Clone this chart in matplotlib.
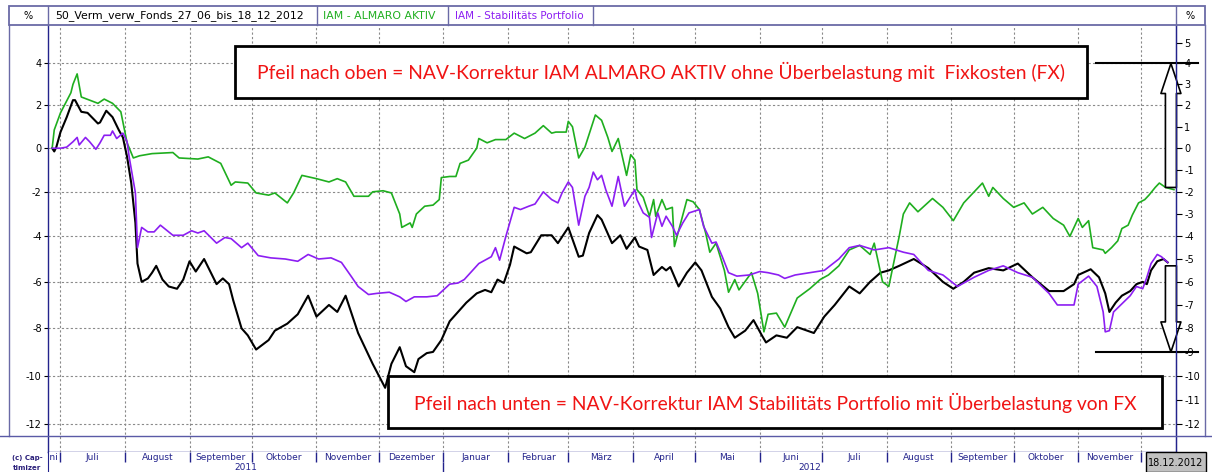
import numpy as np
import pandas as pd
import matplotlib
matplotlib.use("Agg")
import matplotlib.pyplot as plt
from matplotlib.patches import Rectangle
import matplotlib.transforms as mtransforms

plt.rcParams["axes.unicode_minus"] = False
plt.rcParams["font.family"] = "DejaVu Sans"

# --- data: performance in % -----------------------------------------------
fonds_dates = [
    "2011-06-27", "2011-06-28", "2011-06-29", "2011-07-01", "2011-07-04", "2011-07-07",
    "2011-07-08", "2011-07-11", "2011-07-14", "2011-07-19", "2011-07-20", "2011-07-23",
    "2011-07-26", "2011-07-29", "2011-07-31", "2011-08-02", "2011-08-04", "2011-08-06",
    "2011-08-07", "2011-08-09", "2011-08-12", "2011-08-14", "2011-08-16", "2011-08-19",
    "2011-08-22", "2011-08-26", "2011-08-29", "2011-09-01", "2011-09-04", "2011-09-08",
    "2011-09-14", "2011-09-17", "2011-09-20", "2011-09-22", "2011-09-26", "2011-09-29",
    "2011-10-03", "2011-10-09", "2011-10-12", "2011-10-18", "2011-10-23", "2011-10-28",
    "2011-11-01", "2011-11-07", "2011-11-11", "2011-11-15", "2011-11-21", "2011-11-28",
    "2011-12-04", "2011-12-07", "2011-12-11", "2011-12-14", "2011-12-18", "2011-12-20",
    "2011-12-24", "2011-12-27", "2011-12-31", "2012-01-04", "2012-01-09", "2012-01-12",
    "2012-01-17", "2012-01-21", "2012-01-24", "2012-01-27", "2012-01-30", "2012-02-02",
    "2012-02-04", "2012-02-10", "2012-02-12", "2012-02-17", "2012-02-22", "2012-02-25",
    "2012-03-01", "2012-03-06", "2012-03-08", "2012-03-11", "2012-03-15", "2012-03-17",
    "2012-03-22", "2012-03-26", "2012-03-29", "2012-04-02", "2012-04-04", "2012-04-08",
    "2012-04-11", "2012-04-15", "2012-04-17", "2012-04-19", "2012-04-23", "2012-04-27",
    "2012-05-01", "2012-05-04", "2012-05-09", "2012-05-13", "2012-05-17", "2012-05-20",
    "2012-05-25", "2012-05-29", "2012-06-02", "2012-06-04", "2012-06-09", "2012-06-14",
    "2012-06-19", "2012-06-27", "2012-07-02", "2012-07-07", "2012-07-14", "2012-07-19",
    "2012-07-24", "2012-07-29", "2012-08-02", "2012-08-07", "2012-08-14", "2012-08-21",
    "2012-08-28", "2012-09-02", "2012-09-07", "2012-09-12", "2012-09-19", "2012-09-26",
    "2012-10-03", "2012-10-10", "2012-10-18", "2012-10-25", "2012-10-30", "2012-11-01",
    "2012-11-07", "2012-11-11", "2012-11-14", "2012-11-16", "2012-11-19", "2012-11-22",
    "2012-11-26", "2012-11-29", "2012-12-02", "2012-12-04", "2012-12-06", "2012-12-09",
    "2012-12-12", "2012-12-14",
]
fonds_vals = [
    0.0, -0.15, 0.05, 0.75, 1.45, 2.25,
    2.25, 1.7, 1.65, 1.15, 1.2, 1.75,
    1.45, 0.85, 0.5, -0.4, -1.6, -3.4,
    -5.2, -6.0, -5.85, -5.6, -5.3, -5.9,
    -6.2, -6.3, -5.9, -5.1, -5.55, -5.0,
    -6.1, -5.85, -6.1, -6.8, -8.0, -8.3,
    -8.9, -8.5, -8.1, -7.8, -7.4, -6.6,
    -7.5, -7.0, -7.3, -6.6, -8.2, -9.5,
    -10.5, -9.5, -8.8, -9.6, -9.85, -9.3,
    -9.05, -9.0, -8.5, -7.7, -7.2, -6.9,
    -6.5, -6.35, -6.45, -5.9, -6.05, -5.25,
    -4.45, -4.75, -4.7, -3.95, -3.95, -4.3,
    -3.6, -4.9, -4.85, -3.85, -3.05, -3.25,
    -4.3, -3.95, -4.55, -4.05, -4.45, -4.6,
    -5.7, -5.35, -5.5, -5.35, -6.2, -5.6,
    -5.15, -5.5, -6.65, -7.15, -7.95, -8.4,
    -8.1, -7.65, -8.3, -8.6, -8.3, -8.4,
    -7.95, -8.2, -7.5, -7.0, -6.2, -6.5,
    -6.0, -5.6, -5.5, -5.3, -5.0, -5.4,
    -6.0, -6.3, -6.0, -5.6, -5.4, -5.5,
    -5.2, -5.8, -6.4, -6.4, -6.1, -5.7,
    -5.45, -5.8, -6.5, -7.3, -6.9, -6.6,
    -6.4, -6.1, -6.0, -6.1, -5.5, -5.1,
    -5.0, -5.15,
]

almaro_dates = [
    "2011-06-27", "2011-06-28", "2011-07-01", "2011-07-06", "2011-07-07", "2011-07-09",
    "2011-07-11", "2011-07-15", "2011-07-19", "2011-07-22", "2011-07-26", "2011-07-29",
    "2011-07-30", "2011-08-02", "2011-08-05", "2011-08-08", "2011-08-14", "2011-08-24",
    "2011-08-27", "2011-09-05", "2011-09-10", "2011-09-16", "2011-09-21", "2011-09-23",
    "2011-09-29", "2011-10-03", "2011-10-09", "2011-10-12", "2011-10-18", "2011-10-21",
    "2011-10-25", "2011-11-01", "2011-11-07", "2011-11-11", "2011-11-15", "2011-11-19",
    "2011-11-26", "2011-11-28", "2011-12-03", "2011-12-07", "2011-12-11", "2011-12-12",
    "2011-12-16", "2011-12-17", "2011-12-19", "2011-12-23", "2011-12-27", "2011-12-30",
    "2011-12-31", "2012-01-04", "2012-01-07", "2012-01-09", "2012-01-13", "2012-01-17",
    "2012-01-18", "2012-01-22", "2012-01-26", "2012-01-31", "2012-02-04", "2012-02-09",
    "2012-02-14", "2012-02-18", "2012-02-22", "2012-02-24", "2012-02-29", "2012-03-01",
    "2012-03-03", "2012-03-06", "2012-03-09", "2012-03-14", "2012-03-17", "2012-03-20",
    "2012-03-22", "2012-03-25", "2012-03-29", "2012-03-31", "2012-04-02", "2012-04-03",
    "2012-04-06", "2012-04-09", "2012-04-11", "2012-04-12", "2012-04-15", "2012-04-17",
    "2012-04-20", "2012-04-21", "2012-04-24", "2012-04-27", "2012-04-30", "2012-05-03",
    "2012-05-06", "2012-05-08", "2012-05-11", "2012-05-15", "2012-05-17", "2012-05-20",
    "2012-05-22", "2012-05-28", "2012-05-31", "2012-06-03", "2012-06-05", "2012-06-09",
    "2012-06-13", "2012-06-19", "2012-06-25", "2012-06-30", "2012-07-04", "2012-07-09",
    "2012-07-14", "2012-07-19", "2012-07-24", "2012-07-26", "2012-07-30", "2012-08-02",
    "2012-08-07", "2012-08-09", "2012-08-12", "2012-08-16", "2012-08-23", "2012-08-28",
    "2012-09-02", "2012-09-07", "2012-09-12", "2012-09-16", "2012-09-19", "2012-09-21",
    "2012-09-26", "2012-10-01", "2012-10-06", "2012-10-10", "2012-10-15", "2012-10-20",
    "2012-10-25", "2012-10-28", "2012-11-01", "2012-11-03", "2012-11-06", "2012-11-08",
    "2012-11-13", "2012-11-14", "2012-11-17", "2012-11-20", "2012-11-22", "2012-11-25",
    "2012-11-27", "2012-11-30", "2012-12-03", "2012-12-05", "2012-12-08", "2012-12-10",
    "2012-12-13", "2012-12-17",
]
almaro_vals = [
    0.0, 0.85, 1.65, 2.6, 3.0, 3.5,
    2.4, 2.25, 2.1, 2.3, 2.1, 1.8,
    1.7, 0.25, -0.45, -0.35, -0.25, -0.2,
    -0.45, -0.5, -0.4, -0.7, -1.7, -1.55,
    -1.6, -2.05, -2.15, -2.05, -2.5, -2.05,
    -1.25, -1.4, -1.55, -1.4, -1.55, -2.2,
    -2.2, -2.0, -1.95, -2.05, -3.0, -3.6,
    -3.4, -3.6, -3.0, -2.65, -2.6, -2.35,
    -1.35, -1.3, -1.3, -0.7, -0.55, 0.0,
    0.45, 0.25, 0.4, 0.4, 0.7, 0.45,
    0.7, 1.05, 0.7, 0.75, 0.75, 1.25,
    1.0, -0.45, 0.05, 1.55, 1.3, 0.5,
    -0.15, 0.45, -1.25, -0.3, -0.55, -1.9,
    -2.25, -3.1, -2.35, -3.1, -2.35, -2.8,
    -2.7, -4.45, -3.4, -2.35, -2.45, -2.8,
    -3.85, -4.7, -4.3, -5.5, -6.45, -5.9,
    -6.35, -5.6, -6.5, -8.15, -7.4, -7.35,
    -7.95, -6.7, -6.3, -5.9, -5.7, -5.3,
    -4.6, -4.4, -4.8, -4.3, -6.0, -6.2,
    -4.0, -3.0, -2.5, -2.9, -2.3, -2.7,
    -3.3, -2.5, -2.0, -1.6, -2.2, -1.8,
    -2.3, -2.7, -2.5, -3.0, -2.7, -3.2,
    -3.5, -4.0, -3.2, -3.6, -3.3, -4.5,
    -4.6, -4.75, -4.5, -4.2, -3.65, -3.5,
    -3.05, -2.5, -2.35, -2.15, -1.8, -1.6,
    -1.8, -1.9,
]

stabil_dates = [
    "2011-06-27", "2011-07-01", "2011-07-04", "2011-07-07", "2011-07-09", "2011-07-10",
    "2011-07-13", "2011-07-15", "2011-07-18", "2011-07-20", "2011-07-22", "2011-07-25",
    "2011-07-26", "2011-07-28", "2011-07-31", "2011-08-02", "2011-08-03", "2011-08-06",
    "2011-08-07", "2011-08-09", "2011-08-12", "2011-08-15", "2011-08-18", "2011-08-22",
    "2011-08-24", "2011-08-29", "2011-09-02", "2011-09-05", "2011-09-08", "2011-09-14",
    "2011-09-18", "2011-09-21", "2011-09-26", "2011-09-29", "2011-10-04", "2011-10-10",
    "2011-10-17", "2011-10-23", "2011-10-28", "2011-11-02", "2011-11-08", "2011-11-13",
    "2011-11-18", "2011-11-21", "2011-11-26", "2011-11-30", "2011-12-06", "2011-12-11",
    "2011-12-14", "2011-12-18", "2011-12-24", "2011-12-29", "2012-01-01", "2012-01-04",
    "2012-01-08", "2012-01-11", "2012-01-14", "2012-01-18", "2012-01-22", "2012-01-24",
    "2012-01-26", "2012-01-28", "2012-01-31", "2012-02-04", "2012-02-07", "2012-02-11",
    "2012-02-14", "2012-02-18", "2012-02-22", "2012-02-25", "2012-02-27", "2012-03-01",
    "2012-03-03", "2012-03-06", "2012-03-09", "2012-03-11", "2012-03-13", "2012-03-15",
    "2012-03-17", "2012-03-19", "2012-03-22", "2012-03-25", "2012-03-28", "2012-03-30",
    "2012-04-02", "2012-04-03", "2012-04-06", "2012-04-09", "2012-04-10", "2012-04-13",
    "2012-04-15", "2012-04-17", "2012-04-20", "2012-04-22", "2012-04-25", "2012-04-28",
    "2012-05-03", "2012-05-05", "2012-05-09", "2012-05-11", "2012-05-14", "2012-05-17",
    "2012-05-21", "2012-05-27", "2012-06-01", "2012-06-05", "2012-06-10", "2012-06-13",
    "2012-06-18", "2012-06-25", "2012-07-02", "2012-07-09", "2012-07-14", "2012-07-19",
    "2012-07-26", "2012-08-02", "2012-08-09", "2012-08-14", "2012-08-21", "2012-08-28",
    "2012-09-04", "2012-09-12", "2012-09-19", "2012-09-26", "2012-10-03", "2012-10-10",
    "2012-10-18", "2012-10-22", "2012-10-30", "2012-11-01", "2012-11-06", "2012-11-10",
    "2012-11-13", "2012-11-14", "2012-11-16", "2012-11-18", "2012-11-22", "2012-11-26",
    "2012-11-29", "2012-12-02", "2012-12-04", "2012-12-06", "2012-12-09", "2012-12-11",
    "2012-12-14",
]
stabil_vals = [
    0.0, 0.0, 0.05, 0.3, 0.5, 0.15,
    0.5, 0.3, -0.05, 0.25, 0.6, 0.6,
    0.8, 0.45, 0.7, 0.3, -0.4, -2.05,
    -4.5, -3.6, -3.8, -3.8, -3.5, -3.8,
    -3.95, -3.95, -3.75, -3.85, -3.75, -4.3,
    -4.05, -4.1, -4.5, -4.3, -4.85, -4.95,
    -5.0, -5.1, -4.8, -5.0, -4.95, -5.15,
    -5.8, -6.2, -6.55, -6.5, -6.45, -6.65,
    -6.85, -6.65, -6.65, -6.6, -6.35, -6.1,
    -6.05, -5.9, -5.6, -5.2, -5.0, -4.9,
    -4.5, -5.05, -4.0, -2.7, -2.8, -2.65,
    -2.55, -2.0, -2.35, -2.5, -2.05, -1.55,
    -1.8, -3.5, -2.2, -1.8, -1.1, -1.45,
    -1.25, -1.9, -2.65, -1.3, -2.65, -2.35,
    -1.9, -2.35, -2.95, -3.15, -4.05, -2.95,
    -3.55, -3.1, -3.55, -3.95, -3.4, -2.95,
    -2.8, -3.55, -4.3, -4.25, -4.9, -5.6,
    -5.75, -5.7, -5.55, -5.6, -5.7, -5.85,
    -5.7, -5.6, -5.5, -5.0, -4.5, -4.4,
    -4.6, -4.5, -4.7, -4.8, -5.5, -5.7,
    -6.2, -5.8, -5.5, -5.3, -5.6, -5.8,
    -6.5, -7.0, -7.0, -6.1, -5.75, -6.2,
    -7.3, -8.15, -8.1, -7.3, -6.95, -6.6,
    -6.2, -6.3, -5.8, -5.2, -4.8, -4.9,
    -5.15,
]

month_names = ["Juni", "Juli", "August", "September", "Oktober", "November", "Dezember",
               "Januar", "Februar", "März", "April", "Mai", "Juni", "Juli", "August",
               "September", "Oktober", "November"]
left_ticks = list(range(-12, 5, 2))
right_ticks = list(range(-12, 6))

W, H = 1212, 472
NAVY = "#23238c"
FRAME = "#6a6aa6"
GRID = "#8a8a8a"
GREEN = "#1fae1f"
PURPLE = "#8c1ef2"
RED = "#f01414"


def fwd(v):
    return np.log1p(np.asarray(v, dtype=float) / 100.0)


def inv(u):
    return np.expm1(u) * 100.0


def fig_box(x0, y0, x1, y1):
    return [x0 / W, 1 - y1 / H, (x1 - x0) / W, (y1 - y0) / H]


fig = plt.figure(figsize=(W / 100, H / 100), dpi=100)
fig.patch.set_facecolor("white")

x_lo, x_hi = pd.Timestamp("2011-06-25"), pd.Timestamp("2012-12-18")
y_lo, y_hi = -13.12, 5.87
month_starts = pd.date_range("2011-07-01", "2012-12-01", freq="MS")

# main chart
ax = fig.add_axes(fig_box(48, 25, 1176, 452))
ax.set_yscale("function", functions=(fwd, inv))
ax.set_ylim(y_lo, y_hi)
ax.set_xlim(x_lo, x_hi)

ax.plot(pd.to_datetime(fonds_dates), fonds_vals, color="black", lw=1.5, zorder=3)
ax.plot(pd.to_datetime(almaro_dates), almaro_vals, color=GREEN, lw=1.2, zorder=3)
ax.plot(pd.to_datetime(stabil_dates), stabil_vals, color=PURPLE, lw=1.2, zorder=3)

ax.set_xticks(month_starts)
ax.tick_params(axis="x", length=0, labelbottom=False)
ax.set_yticks(left_ticks)
ax.set_yticklabels([str(v) for v in left_ticks])
ax.tick_params(axis="y", length=3, width=0.8, labelsize=7, pad=1.5)
ax.grid(True, ls=(0, (2, 2)), color=GRID, lw=0.8)
ax.spines["top"].set_visible(False)
for s in ("left", "right", "bottom"):
    ax.spines[s].set_color(NAVY)
    ax.spines[s].set_linewidth(1.0)

ax2 = ax.twinx()
ax2.set_yscale("function", functions=(fwd, inv))
ax2.set_ylim(y_lo, y_hi)
ax2.set_yticks(right_ticks)
ax2.set_yticklabels([str(v) for v in right_ticks])
ax2.tick_params(axis="y", length=4, width=0.8, labelsize=7, pad=2)
for s in ("top", "left", "bottom"):
    ax2.spines[s].set_visible(False)
ax2.spines["right"].set_color(NAVY)

# correction arrows and marker lines
bt = mtransforms.blended_transform_factory(ax.transAxes, ax.transData)
for lvl in (4, -9):
    ax.plot([0.929, 1.0195], [lvl, lvl], color="black", lw=1.5, transform=bt,
            clip_on=False, zorder=6)
arrow_kw = dict(arrowstyle="simple,head_length=1.5,head_width=1.0,tail_width=0.55",
                fc="white", ec="black", lw=1.2, shrinkA=0, shrinkB=0, mutation_scale=14.4)
ax.annotate("", xy=(0.9955, 4), xytext=(0.9955, -1.8),
            xycoords=("axes fraction", "data"), textcoords=("axes fraction", "data"),
            arrowprops=arrow_kw, zorder=7, annotation_clip=False)
ax.annotate("", xy=(0.9955, -9), xytext=(0.9955, -5.3),
            xycoords=("axes fraction", "data"), textcoords=("axes fraction", "data"),
            arrowprops=arrow_kw, zorder=7, annotation_clip=False)

# month / year band
axm = fig.add_axes(fig_box(48, 452, 1176, 472))
axm.set_xlim(x_lo, x_hi)
axm.set_ylim(0, 1)
axm.set_xticks([])
axm.set_yticks([])
for s in ("top", "right", "bottom"):
    axm.spines[s].set_visible(False)
axm.spines["left"].set_color(NAVY)
axm.vlines(month_starts, 0.5, 1.0, color=NAVY, lw=1.0)
axm.vlines([pd.Timestamp("2012-01-01")], 0.0, 0.5, color=NAVY, lw=1.0)
m_edges = pd.date_range("2011-06-01", "2012-12-01", freq="MS")
for i, (name, a, b) in enumerate(zip(month_names, m_edges[:-1], m_edges[1:])):
    # the first month is only partly visible; its label is cut at the axis
    centre = x_lo + pd.Timedelta(days=1) if i == 0 else a + (b - a) / 2
    axm.text(centre, 0.74, name, ha="center", va="center", fontsize=6.5,
             color=NAVY, clip_on=True)
split = pd.Timestamp("2012-01-01")
axm.text(x_lo + (split - x_lo) / 2, 0.22, "2011", ha="center", va="center",
         fontsize=6.5, color=NAVY)
axm.text(split + (x_hi - split) / 2, 0.22, "2012", ha="center", va="center",
         fontsize=6.5, color=NAVY)

# frame, header and text boxes (pixel coordinates)
ov = fig.add_axes([0, 0, 1, 1], zorder=10)
ov.set_xlim(0, W)
ov.set_ylim(H, 0)
ov.axis("off")
ov.patch.set_alpha(0)

ov.add_patch(Rectangle((9, 6), 1196, 19, fc="white", ec=FRAME, lw=1.3))
for xs in (48, 317, 448, 593, 1176):
    ov.plot([xs, xs], [6, 25], color=FRAME, lw=1.0)
ov.plot([9, 9], [25, 436], color=FRAME, lw=1.0)
ov.plot([1205, 1205], [25, 436], color=FRAME, lw=1.0)
ov.plot([0, W], [436, 436], color="#5a5aa6", lw=1.0)
ov.text(28, 16, "%", ha="center", va="center", fontsize=7)
ov.text(55, 16, "50_Verm_verw_Fonds_27_06_bis_18_12_2012", ha="left", va="center", fontsize=7.8)
ov.text(323, 16, "IAM - ALMARO AKTIV", ha="left", va="center", fontsize=7.8, color=GREEN)
ov.text(455, 16, "IAM - Stabilitäts Portfolio", ha="left", va="center", fontsize=7.5, color=PURPLE)
ov.text(1190, 16, "%", ha="center", va="center", fontsize=7)

ov.text(27, 458, "(c) Cap-", ha="center", va="center", fontsize=5, fontweight="bold", color="#2a1f7a")
ov.text(27, 468.5, "timizer", ha="center", va="center", fontsize=5, fontweight="bold", color="#2a1f7a")

ov.add_patch(Rectangle((1146, 452), 60, 20, fc="#c0c0c0", ec="black", lw=1.0))
ov.text(1176, 463, "18.12.2012", ha="center", va="center", fontsize=7)

ov.add_patch(Rectangle((235, 46), 852, 52, fc="white", ec="black", lw=2.0))
ov.text(661, 72, "Pfeil nach oben = NAV-Korrektur IAM ALMARO AKTIV ohne Überbelastung mit  Fixkosten (FX)",
        ha="center", va="center", fontsize=13.9, color=RED, family="Lato")
ov.add_patch(Rectangle((388, 376), 774, 52, fc="white", ec="black", lw=2.0))
ov.text(775, 403, "Pfeil nach unten = NAV-Korrektur IAM Stabilitäts Portfolio mit Überbelastung von FX",
        ha="center", va="center", fontsize=13.9, color=RED, family="Lato")

fig.savefig("out.png", dpi=100)
